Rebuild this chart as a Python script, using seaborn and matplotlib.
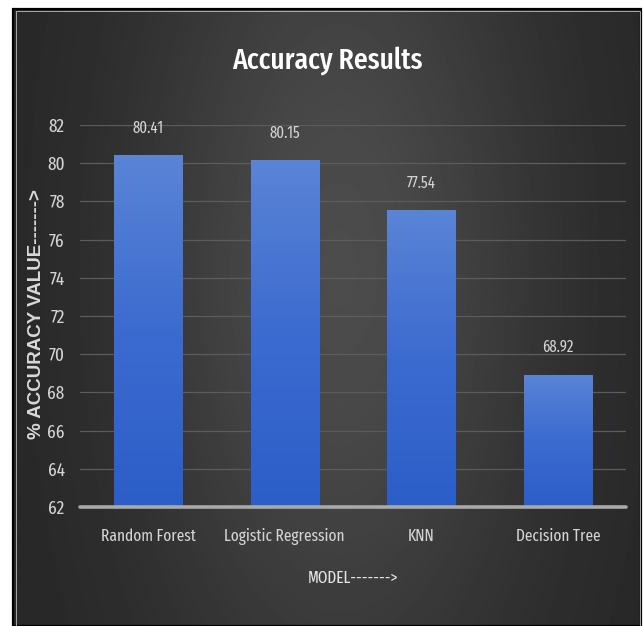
import numpy as np
import pandas as pd
import matplotlib
matplotlib.use("Agg")
import matplotlib.pyplot as plt
from matplotlib import font_manager
from matplotlib.patches import Rectangle
from matplotlib.colors import LinearSegmentedColormap
import seaborn as sns

models = ["Random Forest", "Logistic Regression", "KNN", "Decision Tree"]
accuracy = [80.41, 80.15, 77.54, 68.92]
y_ticks = [62, 64, 66, 68, 70, 72, 74, 76, 78, 80, 82]

sns.set_theme(style="dark")

installed = {f.name for f in font_manager.fontManager.ttflist}
cond = next((n for n in ["Fira Sans Extra Condensed", "Fira Sans Condensed", "PT Sans Narrow",
                         "Barlow Condensed", "Asap Condensed", "Liberation Sans"]
             if n in installed), "DejaVu Sans")
plt.rcParams["font.family"] = [cond, "DejaVu Sans"]

W, H = 643, 626
fig = plt.figure(figsize=(W / 100, H / 100), dpi=100, facecolor="white")

# dark panel with a soft radial glow
px0, px1, py0, py1 = 13, 641, 9, 626
bg = fig.add_axes([px0 / W, 0, (px1 - px0) / W, (py1 - py0) / H])
bg.set_axis_off()
u = np.linspace(0, 1, 400)[None, :]
v = np.linspace(0, 1, 400)[:, None]
glow = np.exp(-((u - 0.52) / 0.33) ** 2 - ((v - 0.42) / 0.75) ** 2)
shade = 38 + (76 - 38) * glow
bg.imshow(shade, cmap="gray", vmin=0, vmax=255, extent=[0, 1, 0, 1],
          aspect="auto", interpolation="bilinear")
bg.set_xlim(0, 1)
bg.set_ylim(0, 1)
bg.add_patch(Rectangle((0, 0), 1, 1, transform=bg.transAxes, fill=False,
                       edgecolor="black", lw=1.6, clip_on=False))
bg.add_patch(Rectangle((0.004, -0.01), 0.994, 1.007, transform=bg.transAxes,
                       fill=False, edgecolor="#bdbdbd", lw=0.6, clip_on=False))

# plotting area
left, right, top, bottom = 80, 626, 125, 507
ax = fig.add_axes([left / W, (H - bottom) / H, (right - left) / W, (bottom - top) / H])
ax.set_facecolor("none")

df = pd.DataFrame({"model": models, "accuracy": accuracy})
sns.barplot(data=df, x="model", y="accuracy", color="#3c6cd0", saturation=1,
            width=0.5, linewidth=0, ax=ax, zorder=2)

# vertical blue gradient on each bar
grad = np.linspace(0, 1, 256)[:, None]
bar_cmap = LinearSegmentedColormap.from_list("barblue", ["#2c5ec8", "#3c6bd0", "#5a84d6"])
for patch in list(ax.patches):
    x0 = patch.get_x()
    x1 = x0 + patch.get_width()
    h = patch.get_height()
    im = ax.imshow(grad, cmap=bar_cmap, origin="lower", aspect="auto",
                   extent=[x0, x1, y_ticks[0], h], zorder=2.5)
    im.set_clip_path(patch)
ax.set_xlim(-0.5, 3.5)
ax.set_ylim(y_ticks[0], y_ticks[-1])

ax.set_yticks(y_ticks)
ax.yaxis.grid(True, color="#5c5c5c", lw=0.9)
ax.set_axisbelow(True)
ax.axhline(y_ticks[0], color="#a9a9a9", lw=2.6, zorder=4, clip_on=False)
for s in ax.spines.values():
    s.set_visible(False)
ax.tick_params(axis="both", length=0, colors="#d4d4d4")
ax.tick_params(axis="y", pad=11, labelsize=13.5)
ax.tick_params(axis="x", pad=15, labelsize=12)
for lab in ax.get_yticklabels() + ax.get_xticklabels():
    lab.set_color("#d4d4d4")

for i, val in enumerate(accuracy):
    ax.annotate(f"{val:.2f}", xy=(i, val), xytext=(0, 19.5), textcoords="offset points",
                ha="center", va="center", fontsize=11.5, color="#d4d4d4")

ax.set_xlabel("MODEL------->", fontsize=12, color="#e6e6e6", labelpad=18)
ax.set_ylabel("% ACCURACY VALUE------->", fontsize=13.5, fontweight="bold",
              color="#d9d9d9", family=["Liberation Sans", "DejaVu Sans"])
ax.yaxis.set_label_coords(-35 / (right - left), 0.505)

fig.text(327 / W, 1 - 61 / H, "Accuracy Results", ha="center", va="center",
         fontsize=21.5, fontweight=500, color="white")

fig.savefig("out.png", dpi=100, facecolor="white")
